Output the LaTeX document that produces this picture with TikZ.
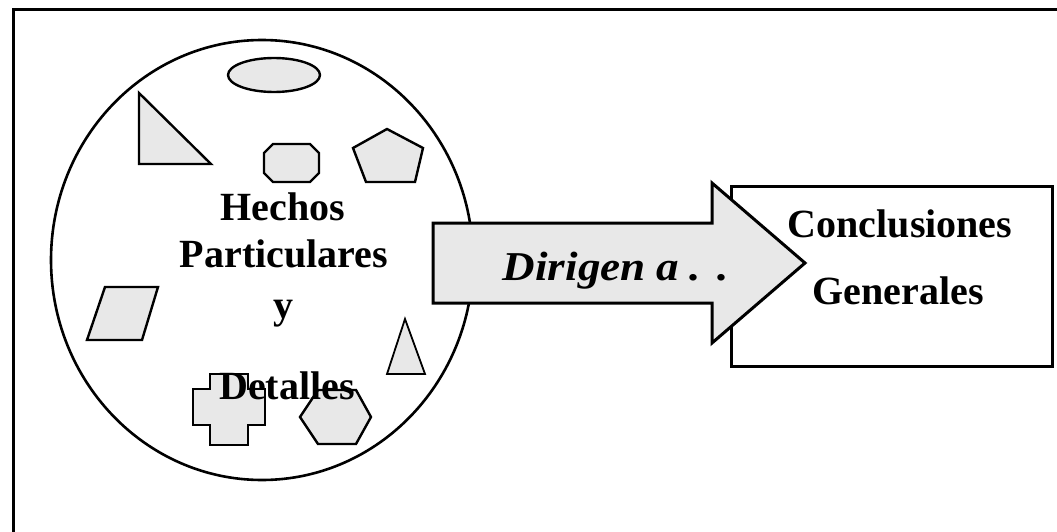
\documentclass[tikz,border=0pt]{standalone}
\usepackage{fontspec}
\setmainfont{Liberation Serif}
\usetikzlibrary{shapes.geometric}
\definecolor{shapegray}{HTML}{E8E8E8}
\tikzset{
  shp/.style={draw=black, fill=shapegray, line width=2.4pt, line join=miter},
  lbl/.style={anchor=base, inner sep=0pt, font=\fontsize{40}{48}\selectfont\bfseries},
  ilbl/.style={anchor=base, inner sep=0pt, font=\fontsize{41}{48}\selectfont\bfseries\itshape},
}
\begin{document}
\begin{tikzpicture}[x=1pt,y=-1pt]
\useasboundingbox (0,0) rectangle (1057,532);
\clip (0,0) rectangle (1057,532);
% outer frame (cut off at right and bottom)
\draw[line width=3pt] (13,9.5) rectangle (1075,550);
% big circle
\node (facts) [draw, ellipse, line width=2.6pt, minimum width=422pt, minimum height=440pt, inner sep=0pt] at (262,260) {};
% shapes inside
\draw[shp] (274,75) ellipse [x radius=46, y radius=17];
\draw[shp] (139,93) -- (139,164) -- (211,164) -- cycle;
\draw[shp] (273,144) -- (310,144) -- (319,153) -- (319,173) -- (310,182) -- (273,182) -- (264,173) -- (264,153) -- cycle;
\draw[shp] (387,129) -- (423,148) -- (415,182) -- (366,182) -- (353,148) -- cycle;
\draw[shp] (105,287) -- (158,287) -- (142,340) -- (87,340) -- cycle;
\draw[shp, line width=1.8pt] (405,319) -- (425,374) -- (387,374) -- cycle;
\draw[shp] (210,374) -- (248,374) -- (248,389) -- (265,389) -- (265,425) -- (248,425) -- (248,445) -- (210,445) -- (210,425) -- (193,425) -- (193,389) -- (210,389) -- cycle;
\draw[shp] (300,417) -- (318,390) -- (356,390) -- (371,417) -- (356,444) -- (318,444) -- cycle;
% texts in circle
\node[lbl] (t1) at (283,220) {Hechos};
\node[lbl] (t2) at (284,267) {Particulares};
\node[lbl] (t3) at (283,318) {y};
\node[lbl] (t4) at (287,399) {Detalles};
% conclusions box
\node (concl) [draw, line width=3pt, minimum width=321pt, minimum height=180pt, inner sep=0pt] at (891.5,276) {};
% arrow
\coordinate (a0) at (433,263);
\coordinate (tip) at (805,263);
\draw[shp, line width=3pt] (a0 |- 0,223) -- (712,223) -- (712,183) -- (tip) -- (712,343) -- (712,303) -- (a0 |- 0,303) -- cycle;
\node[ilbl] (dir) at (616,280) {\scalebox{1.1}[1]{Dirigen a\hspace{0.22em}.\hspace{0.38em}.}};
% conclusion texts
\node[lbl] (c1) at (900,237) {Conclusiones};
\node[lbl] (c2) at (898,304) {Generales};
\end{tikzpicture}
\end{document}
